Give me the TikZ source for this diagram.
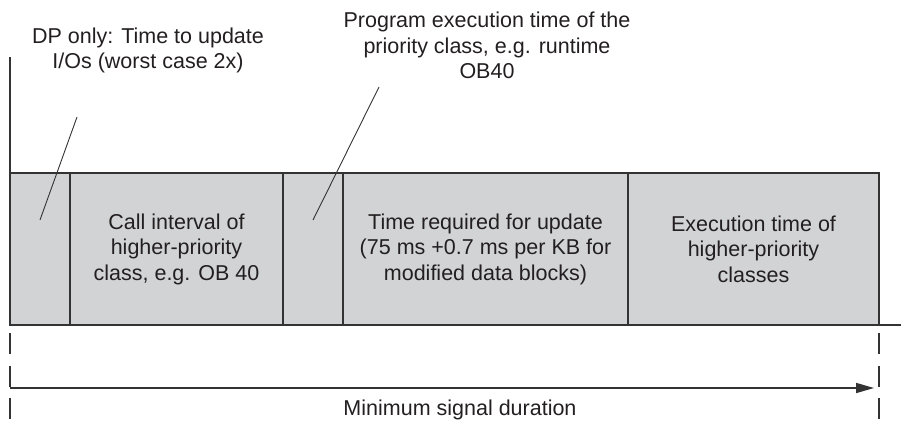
\documentclass[tikz,border=0pt]{standalone}
\usepackage{fontspec}
\setmainfont{Liberation Sans}
\usetikzlibrary{arrows.meta}
\definecolor{inkgray}{HTML}{333333}
\definecolor{txtgray}{HTML}{231F20}
\definecolor{barfill}{HTML}{D1D3D4}
\tikzset{
  seg/.style={draw=inkgray, line width=1.2pt, fill=barfill, minimum height=152pt,
              inner sep=0pt, outer sep=0pt, anchor=north west,
              text=txtgray, align=center},
  lbl/.style={text=txtgray, align=center, inner sep=0pt},
  lead/.style={draw=inkgray, line width=0.9pt},
  tick/.style={draw=inkgray, line width=1.1pt, dash pattern=on 21pt off 11.5pt},
}
\begin{document}
\begin{tikzpicture}[x=1pt, y=-1pt, font=\fontsize{21.5}{25.5}\selectfont]
\useasboundingbox (0,0) rectangle (901,425);

% bar segments along the time axis
\node[seg, minimum width=60pt]  (s1) at (10,173) {};
\node[seg, minimum width=213pt] (s2) at (70,173) {Call interval of\\higher-priority\\class, e.g. OB 40};
\node[seg, minimum width=60pt]  (s3) at (283,173) {};
\node[seg, minimum width=285pt] (s4) at (343,173) {Time required for update\\(75 ms +0.7 ms per KB for\\modified data blocks)};
\node[seg, minimum width=251pt] (s5) at (628,173) {Execution time of\\higher-priority\\classes};

% start marker above the bar and base line continuing to the right
\coordinate (top0) at (10,57);
\coordinate (baseend) at (901,325);
\draw[inkgray, line width=1.2pt] (top0) -- (s1.north west);
\draw[inkgray, line width=1.2pt] (s5.south east) -- (baseend);

% callout texts and their leader lines
\node[lbl] (dp) at (148,50.5) {DP only: Time to update\\I/Os (worst case 2x)};
\node[lbl] (prog) at (487,45.5) {Program execution time of the\\priority class, e.g. runtime\\OB40};
\coordinate (dpA) at (77,117);
\coordinate (dpB) at (40,220);
\coordinate (prA) at (379,87);
\coordinate (prB) at (313,220);
\draw[lead] (dpA) -- (dpB);
\draw[lead] (prA) -- (prB);

% dashed limit marks below the bar
\coordinate (l0) at (10,333);
\coordinate (l1) at (10,420);
\coordinate (r0) at (879,333);
\coordinate (r1) at (879,420);
\draw[tick] (l0) -- (l1);
\draw[tick] (r0) -- (r1);

% duration arrow
\coordinate (a0) at (10,388);
\coordinate (a1) at (874,388);
\draw[inkgray, line width=1.6pt, -{Triangle[length=18pt,width=10pt]}] (a0) -- (a1);
\node[lbl] (dur) at (460,410) {Minimum signal duration};
\end{tikzpicture}
\end{document}
